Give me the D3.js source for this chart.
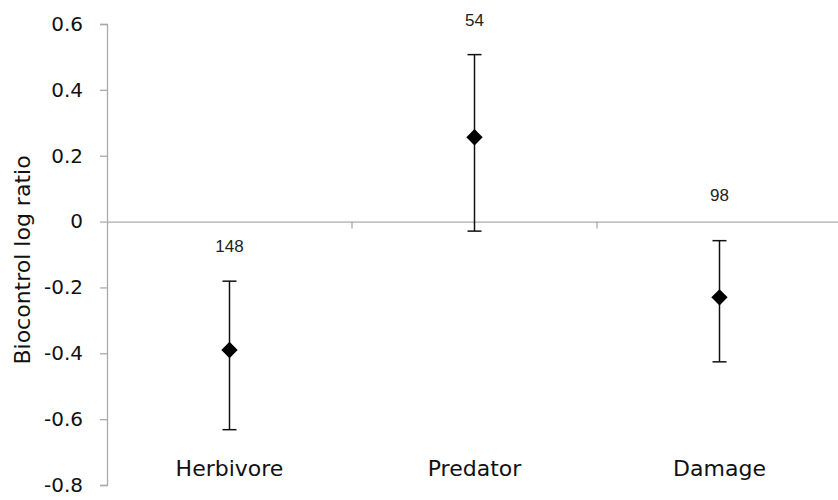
<!DOCTYPE html>
<html>
<head>
<meta charset="utf-8">
<script src="https://cdn.jsdelivr.net/npm/d3@7"></script>
<style>
  body { margin: 0; background: #fff; }
  svg { display: block; }
</style>
</head>
<body>
<div id="chart"></div>
<script>
// data
var categories = ['Herbivore', 'Predator', 'Damage'];
var means = [-0.39, 0.256, -0.23];
var upper = [-0.181, 0.507, -0.058];
var lower = [-0.632, -0.029, -0.426];
var counts = ['148', '54', '98'];
var yTicks = [0.6, 0.4, 0.2, 0, -0.2, -0.4, -0.6, -0.8];

var width = 838, height = 500;
var margin = { top: 24, right: -4, bottom: 15, left: 107 };

var svg = d3.select('#chart').append('svg')
  .attr('width', width)
  .attr('height', height);

var x = d3.scaleBand()
  .domain(categories)
  .range([margin.left, width - margin.right])
  .padding(0);

var y = d3.scaleLinear()
  .domain([-0.8, 0.6])
  .range([height - margin.bottom, margin.top]);

var font = '"DejaVu Sans", Verdana, sans-serif';
var numFont = '"Liberation Sans", Arial, sans-serif';

// y axis
var yAxis = svg.append('g')
  .attr('transform', 'translate(' + margin.left + ',0)')
  .call(d3.axisLeft(y).tickValues(yTicks).tickSize(7).tickPadding(17)
    .tickFormat(function(d) { return d === 0 ? '0' : d.toFixed(1); }));
yAxis.select('.domain').attr('stroke', '#aaa').attr('stroke-width', 1.3);
yAxis.selectAll('.tick line').attr('stroke', '#aaa').attr('stroke-width', 1.3);
yAxis.selectAll('.tick text')
  .attr('fill', '#111')
  .style('font-family', font)
  .style('font-size', '20px');

// x axis at zero
var xAxis = svg.append('g')
  .attr('transform', 'translate(0,' + y(0) + ')')
  .call(d3.axisBottom(x).tickValues([]).tickSizeOuter(0));
xAxis.select('.domain').attr('stroke', '#aaa').attr('stroke-width', 1.3);
// category boundary ticks
svg.selectAll('.cat-tick')
  .data(categories.slice(1))
  .enter().append('line')
  .attr('class', 'cat-tick')
  .attr('x1', function(d) { return x(d); })
  .attr('x2', function(d) { return x(d); })
  .attr('y1', y(0))
  .attr('y2', y(0) + 7)
  .attr('stroke', '#aaa')
  .attr('stroke-width', 1.3);

// category labels
svg.selectAll('.cat-label')
  .data(categories)
  .enter().append('text')
  .attr('class', 'cat-label')
  .attr('x', function(d) { return x(d) + x.bandwidth() / 2; })
  .attr('y', 476)
  .attr('text-anchor', 'middle')
  .style('font-family', font)
  .style('font-size', '22px')
  .attr('fill', '#111')
  .text(function(d) { return d; });

// error bars
var g = svg.append('g');
categories.forEach(function(c, i) {
  var px = x(c) + x.bandwidth() / 2;
  g.append('line')
    .attr('x1', px).attr('x2', px)
    .attr('y1', y(upper[i])).attr('y2', y(lower[i]))
    .attr('stroke', '#111').attr('stroke-width', 1.5);
  [upper[i], lower[i]].forEach(function(v) {
    g.append('line')
      .attr('x1', px - 7).attr('x2', px + 7)
      .attr('y1', y(v)).attr('y2', y(v))
      .attr('stroke', '#111').attr('stroke-width', 1.5);
  });
  g.append('path')
    .attr('transform', 'translate(' + px + ',' + y(means[i]) + ')')
    .attr('d', d3.symbol().type(d3.symbolDiamond2).size(170))
    .attr('fill', '#000');
});

// sample sizes
var countY = [246, 20, 195];
svg.selectAll('.count')
  .data(counts)
  .enter().append('text')
  .attr('class', 'count')
  .attr('x', function(d, i) { return x(categories[i]) + x.bandwidth() / 2; })
  .attr('y', function(d, i) { return countY[i]; })
  .attr('dy', '0.35em')
  .attr('text-anchor', 'middle')
  .style('font-family', numFont)
  .style('font-size', '17px')
  .attr('fill', '#222')
  .text(function(d) { return d; });

// y axis title
svg.append('text')
  .attr('transform', 'translate(30,' + 260 + ') rotate(-90)')
  .attr('text-anchor', 'middle')
  .style('font-family', font)
  .style('font-size', '22px')
  .attr('fill', '#111')
  .text('Biocontrol log ratio');
</script>
</body>
</html>
